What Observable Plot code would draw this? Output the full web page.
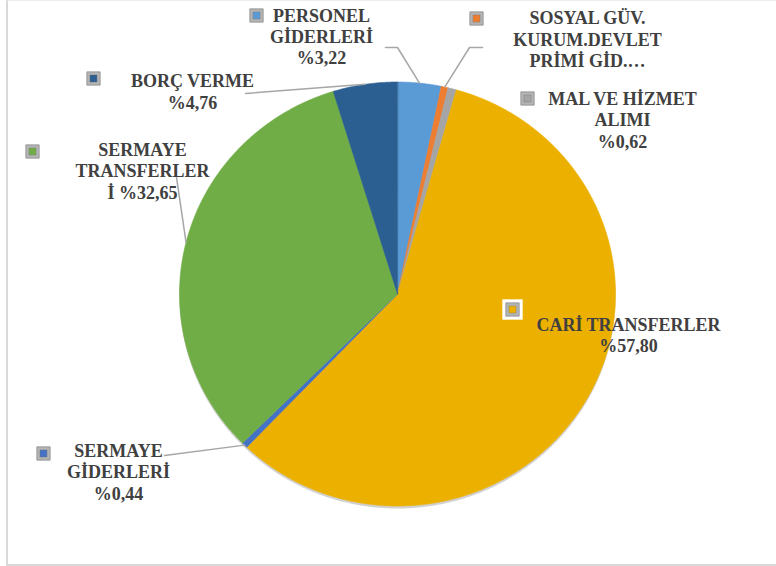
<!DOCTYPE html>
<html><head><meta charset="utf-8">
<script src="https://cdn.jsdelivr.net/npm/d3@7"></script>
<script src="https://cdn.jsdelivr.net/npm/@observablehq/plot@0.6"></script>
<style>
html,body{margin:0;padding:0;background:#fff;}
#wrap{position:relative;width:776px;height:566px;overflow:hidden;}
#frame{position:absolute;left:6px;top:0;width:780px;height:566px;border-left:2px solid #d9d9d9;border-bottom:2px solid #d9d9d9;border-top:1px solid #ececec;box-sizing:border-box;}
#chart{position:absolute;left:0;top:0;}
</style></head><body>
<div id="wrap"><div id="frame"></div><div id="chart"></div></div>
<script>
// ---- data ----
const categories = ["PERSONEL GİDERLERİ","SOSYAL GÜV. KURUM.DEVLET PRİMİ GİD.","MAL VE HİZMET ALIMI","CARİ TRANSFERLER","SERMAYE GİDERLERİ","SERMAYE TRANSFERLERİ","BORÇ VERME"];
const values = [3.22, 0.51, 0.62, 57.80, 0.44, 32.65, 4.76];
const labelTexts = [
  "PERSONEL\nGİDERLERİ\n%3,22",
  "SOSYAL GÜV.\nKURUM.DEVLET\nPRİMİ GİD.…",
  "MAL VE HİZMET\nALIMI\n%0,62",
  "CARİ TRANSFERLER\n%57,80",
  "SERMAYE\nGİDERLERİ\n%0,44",
  "SERMAYE\nTRANSFERLER\nİ %32,65",
  "BORÇ VERME\n%4,76"
];
const colors = ["#5B9BD5","#ED7D31","#A5A5A5","#ECB100","#4472C4","#71AD47","#2C5F91"];

// ---- layout ----
const cx = 397, cy = 293.5, RX = 218, RY = 212;
const labelPos = [[321,35.7],[587,38.3],[622,119],[628,334],[118,471],[142,170],[192,90.5]];
const markerPos = [[256,15],[476,18],[527,98],[512,309],[43,453],[32,151],[93,78]];
const leaderStart = [[[385,47],[397,47]],[[482,47],[469,47]],null,null,[[164,455]],[[175,170]],[[245,93]]];

const pie = d3.pie().sort(null).value(d => d)(values);
const pt = (a, dx = 0, dy = 0) => ({x: cx + dx + RX * Math.sin(a), y: cy + dy - RY * Math.cos(a)});

const arcPoints = (a0, a1, withCenter, dx = 0, dy = 0) => {
  const pts = withCenter ? [{x: cx + dx, y: cy + dy}] : [];
  const n = Math.max(2, Math.ceil((a1 - a0) / 0.005));
  for (let k = 0; k <= n; k++) pts.push(pt(a0 + (a1 - a0) * k / n, dx, dy));
  return pts;
};

const sliceMarks = pie.map((p, i) =>
  Plot.line(arcPoints(p.startAngle, p.endAngle, true), {x: "x", y: "y", curve: "linear-closed", fill: colors[i], stroke: colors[i], strokeWidth: 0.6})
);
const shadow = Plot.line(arcPoints(0, 2 * Math.PI, false, 0, 2.5), {x: "x", y: "y", curve: "linear-closed", fill: "#000", fillOpacity: 0.18});

const leaders = [];
pie.forEach((p, i) => {
  if (!leaderStart[i]) return;
  leaderStart[i].forEach(([x, y]) => leaders.push({id: i, x, y}));
  const e = pt((p.startAngle + p.endAngle) / 2);
  leaders.push({id: i, x: e.x, y: e.y});
});

const labels = categories.map((c, i) => ({name: c, text: labelTexts[i], x: labelPos[i][0], y: labelPos[i][1], mx: markerPos[i][0], my: markerPos[i][1], color: colors[i]}));

const chart = Plot.plot({
  width: 776, height: 566, margin: 0,
  x: {domain: [0, 776], range: [0, 776], axis: null},
  y: {domain: [0, 566], range: [0, 566], axis: null},
  color: {type: "identity"},
  style: {background: "transparent", overflow: "visible"},
  marks: [
    shadow,
    ...sliceMarks,
    Plot.line(leaders, {x: "x", y: "y", z: "id", stroke: "#a6a6a6", strokeWidth: 1.5}),
    Plot.dot(labels.filter(d => d.name === "CARİ TRANSFERLER"), {x: "mx", y: "my", symbol: "square", r: 11.5, fill: "#fff"}),
    Plot.dot(labels, {x: "mx", y: "my", symbol: "square", r: 7.5, fill: "#b4b4b4", stroke: "#8a8a8a", strokeWidth: 0.8}),
    Plot.dot(labels, {x: "mx", y: "my", symbol: "square", r: 4, fill: "color", stroke: "#7a7a7a", strokeWidth: 0.4}),
    Plot.text(labels, {x: "x", y: "y", text: "text", fontFamily: "Liberation Serif", fontWeight: "bold", fontSize: 18, fill: "#404040", lineHeight: 1.19, lineAnchor: "middle"})
  ]
});
document.getElementById("chart").appendChild(chart);
</script>
</body></html>
